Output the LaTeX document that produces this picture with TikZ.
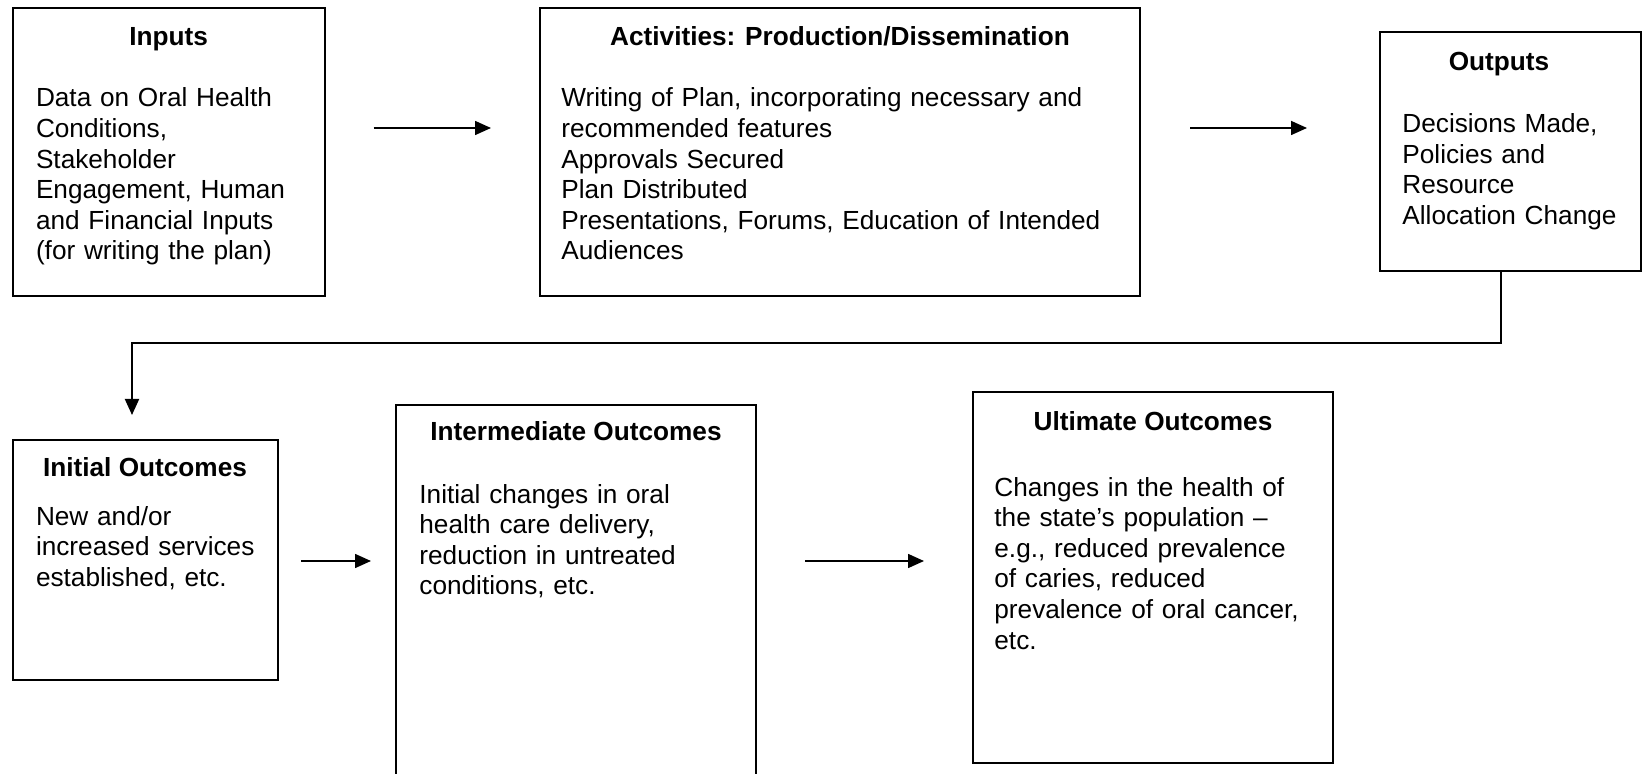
\documentclass[tikz,border=0pt]{standalone}
\usepackage{fontspec}
\setmainfont{Liberation Sans}
\usetikzlibrary{arrows.meta,positioning}

\begin{document}
\begin{tikzpicture}[x=0.5pt,y=-0.5pt,
  box/.style={draw,line width=1pt,inner sep=0pt},
  head/.style={font=\fontsize{13.1pt}{15.3pt}\selectfont\bfseries,anchor=base,inner sep=0pt},
  body/.style={font=\fontsize{13.1pt}{15.3pt}\selectfont,anchor=base west,inner sep=0pt,text width=300pt,align=left},
  arr/.style={line width=0.8pt,-{Triangle[length=8pt,width=7pt]}},
  link/.style={line width=1pt,-{Triangle[length=8pt,width=7pt]}}]

\useasboundingbox (0,0) rectangle (1642,774);

\node[box,minimum width=156pt,minimum height=144pt] (inputs) at (168.6,152.4) {};
\node[head] (inputs-title) at (168.6,46) {Inputs};
\node[body] (inputs-text) at (35.6,107) {Data on Oral Health\\Conditions,\\Stakeholder\\Engagement, Human\\and Financial Inputs\\(for writing the plan)};

\node[box,minimum width=300pt,minimum height=144pt] (activities) at (840,152.4) {};
\node[head] (activities-title) at (840,46) {Activities: Production/Dissemination};
\node[body] (activities-text) at (561,107) {Writing of Plan, incorporating necessary and\\recommended features\\Approvals Secured\\Plan Distributed\\Presentations, Forums, Education of Intended\\Audiences};

\node[box,minimum width=130.5pt,minimum height=119.5pt] (outputs) at (1510.5,151.5) {};
\node[head] (outputs-title) at (1499,71) {Outputs};
\node[body] (outputs-text) at (1402,132.5) {Decisions Made,\\Policies and\\Resource\\Allocation Change};

\node[box,minimum width=132.5pt,minimum height=120pt] (initial) at (145,560) {};
\node[head] (initial-title) at (145,477) {Initial Outcomes};
\node[body] (initial-text) at (35.6,525) {New and/or\\increased services\\established, etc.};

\node[box,minimum width=180pt,minimum height=192.5pt] (intermediate) at (576,597.5) {};
\node[head] (intermediate-title) at (576,441) {Intermediate Outcomes};
\node[body] (intermediate-text) at (419,503) {Initial changes in oral\\health care delivery,\\reduction in untreated\\conditions, etc.};

\node[box,minimum width=180pt,minimum height=185.5pt] (ultimate) at (1153,577.5) {};
\node[head] (ultimate-title) at (1153,431) {Ultimate Outcomes};
\node[body] (ultimate-text) at (994,496) {Changes in the health of\\the state’s population –\\e.g., reduced prevalence\\of caries, reduced\\prevalence of oral cancer,\\etc.};

\draw[arr,shorten <=24pt,shorten >=24pt] (inputs.east |- 0,128) -- (activities.west |- 0,128);
\draw[arr,shorten <=24.5pt,shorten >=36pt] (activities.east |- 0,128) -- (outputs.west |- 0,128);
\draw[link,shorten >=12pt] ([xshift=-4.75pt]outputs.south) |- (132,343) -- (initial.north -| 132,0);
\draw[arr,shorten <=11.25pt,shorten >=12pt] (initial.east |- 0,561) -- (intermediate.west |- 0,561);
\draw[arr,shorten <=24pt,shorten >=24pt] (intermediate.east |- 0,561) -- (ultimate.west |- 0,561);
\end{tikzpicture}
\end{document}
